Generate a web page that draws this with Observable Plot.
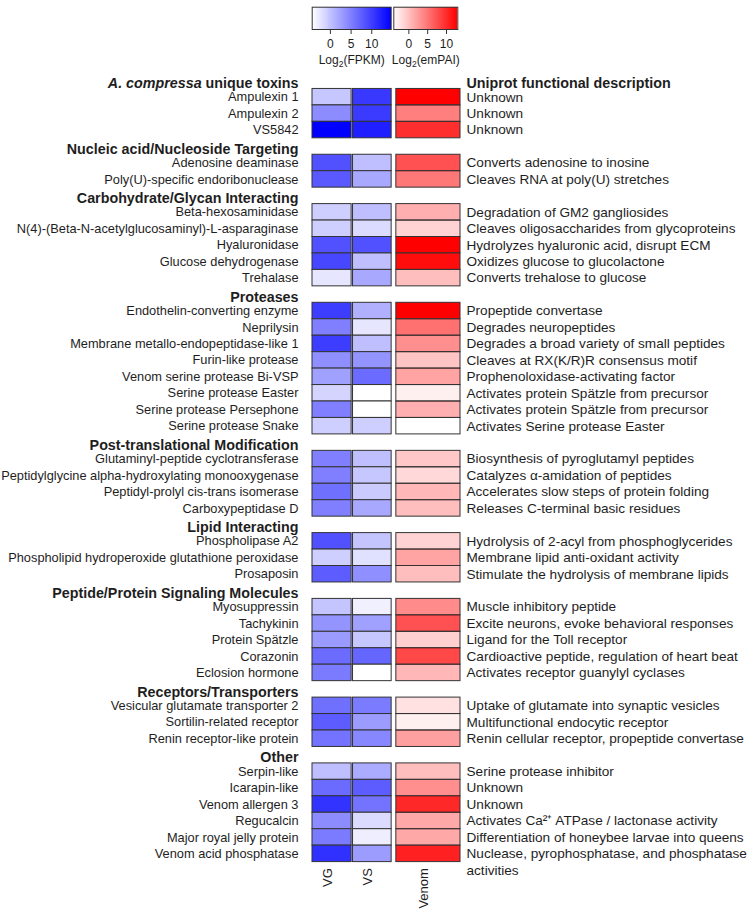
<!DOCTYPE html>
<html><head><meta charset="utf-8">
<script src="https://cdn.jsdelivr.net/npm/d3@7"></script>
<script src="https://cdn.jsdelivr.net/npm/@observablehq/plot@0.6"></script>
<style>
body{margin:0;background:#fff;font-family:"Liberation Sans",Arial,Helvetica,sans-serif;}
#wrap{position:relative;width:750px;height:911px;overflow:hidden;}
#legBlue{position:absolute;left:300px;top:0;}
#legRed{position:absolute;left:392px;top:0;}
#main{position:absolute;left:0;top:66px;}
svg{overflow:visible;}
</style></head><body>
<div id="wrap"><div id="legBlue"></div><div id="legRed"></div><div id="main"></div></div>
<script>
// ---------------- DATA ----------------
const groupNames = [
  "A. compressa unique toxins",
  "Nucleic acid/Nucleoside Targeting",
  "Carbohydrate/Glycan Interacting",
  "Proteases",
  "Post-translational Modification",
  "Lipid Interacting",
  "Peptide/Protein Signaling Molecules",
  "Receptors/Transporters",
  "Other"
];
const proteins = [
  "Ampulexin 1","Ampulexin 2","VS5842",
  "Adenosine deaminase","Poly(U)-specific endoribonuclease",
  "Beta-hexosaminidase","N(4)-(Beta-N-acetylglucosaminyl)-L-asparaginase","Hyaluronidase","Glucose dehydrogenase","Trehalase",
  "Endothelin-converting enzyme","Neprilysin","Membrane metallo-endopeptidase-like 1","Furin-like protease","Venom serine protease Bi-VSP","Serine protease Easter","Serine protease Persephone","Serine protease Snake",
  "Glutaminyl-peptide cyclotransferase","Peptidylglycine alpha-hydroxylating monooxygenase","Peptidyl-prolyl cis-trans isomerase","Carboxypeptidase D",
  "Phospholipase A2","Phospholipid hydroperoxide glutathione peroxidase","Prosaposin",
  "Myosuppressin","Tachykinin","Protein Spätzle","Corazonin","Eclosion hormone",
  "Vesicular glutamate transporter 2","Sortilin-related receptor","Renin receptor-like protein",
  "Serpin-like","Icarapin-like","Venom allergen 3","Regucalcin","Major royal jelly protein","Venom acid phosphatase"
];
const proteinGroup = [
  0,0,0, 1,1, 2,2,2,2,2, 3,3,3,3,3,3,3,3, 4,4,4,4, 5,5,5, 6,6,6,6,6, 7,7,7, 8,8,8,8,8,8
];
// Log2(FPKM), venom gland
const vgLog2FPKM = [
  -0.2, 4.2, 14.7,
  8.6, 8.0,
  -0.8, -0.8, 8.6, 9.4, -2.5,
  10.1, 5.2, 10.1, 4.0, 2.7, -1.2, 5.2, -0.8,
  5.2, 5.2, 6.3, 5.2,
  8.6, -0.8, 7.8,
  0.0, 3.6, 3.2, 6.7, 5.5,
  6.3, 7.8, 6.1,
  0.4, 6.7, 10.9, 4.2, 5.5, 11.1
];
// Log2(FPKM), venom sac
const vsLog2FPKM = [
  10.5, 10.3, 12.4,
  0.4, 2.1,
  0.4, -1.7, 8.6, 0.4, 2.1,
  1.5, -2.5, 0.4, 3.6, 6.7, -4.4, -4.4, -0.8,
  0.4, -0.2, -0.4, 2.1,
  0.0, -2.1, 4.0,
  -3.3, 2.7, -0.2, 7.1, -4.4,
  5.5, 3.0, 4.6,
  1.9, 7.8, 6.1, -1.7, -3.1, 3.0
];
// Log2(emPAI), venom proteome
const venomLog2emPAI = [
  13.0, 4.5, 9.9,
  7.6, 5.0,
  1.3, -1.1, 13.0, 12.2, 0.3,
  13.0, 5.5, 3.5, -0.1, 2.1, -3.0, 1.3, -4.0,
  -0.3, -1.5, 0.8, 0.3,
  -1.1, 2.1, 0.3,
  3.7, 7.6, -0.9, 8.2, 0.8,
  -2.0, -3.0, 2.3,
  0.3, 3.5, 10.3, 1.8, 1.8, 10.8
];
const descriptions = [
  "Unknown","Unknown","Unknown",
  "Converts adenosine to inosine","Cleaves RNA at poly(U) stretches",
  "Degradation of GM2 gangliosides","Cleaves oligosaccharides from glycoproteins","Hydrolyzes hyaluronic acid, disrupt ECM","Oxidizes glucose to glucolactone","Converts trehalose to glucose",
  "Propeptide convertase","Degrades neuropeptides","Degrades a broad variety of small peptides","Cleaves at RX(K/R)R consensus motif","Prophenoloxidase-activating factor","Activates protein Spätzle from precursor","Activates protein Spätzle from precursor","Activates Serine protease Easter",
  "Biosynthesis of pyroglutamyl peptides","Catalyzes α-amidation of peptides","Accelerates slow steps of protein folding","Releases C-terminal basic residues",
  "Hydrolysis of 2-acyl from phosphoglycerides","Membrane lipid anti-oxidant activity","Stimulate the hydrolysis of membrane lipids",
  "Muscle inhibitory peptide","Excite neurons, evoke behavioral responses","Ligand for the Toll receptor","Cardioactive peptide, regulation of heart beat","Activates receptor guanylyl cyclases",
  "Uptake of glutamate into synaptic vesicles","Multifunctional endocytic receptor","Renin cellular receptor, propeptide convertase",
  "Serine protease inhibitor","Unknown","Unknown","Activates Ca²⁺ ATPase / lactonase activity","Differentiation of honeybee larvae into queens","Nuclease, pyrophosphatase, and phosphatase\nactivities"
];
const columns = ["VG","VS","Venom"];
const descriptionHeader = "Uniprot functional description";
const fpkmTicks = [0,5,10];
const empaiTicks = [0,5,10];
const fpkmLabel = "Log2(FPKM)";
const empaiLabel = "Log2(emPAI)";

// ---------------- LAYOUT (styling only) ----------------
const FONT = '"Liberation Sans",Arial,Helvetica,sans-serif';
const INK = "#1e1e1e";
const fpkmDomain = [-4.4, 14.7];
const empaiDomain = [-4.0, 13.0];
const colSpan = {VG: [0, 1], VS: [1.036, 2.023], Venom: [2.143, 3.783]};
const mainHeight = 845, mTop = 6, mBottom = 49.4;
const step = (mainHeight - mTop - mBottom) / (proteins.length + groupNames.length);
const labelSize = 12.8, descSize = 13.6, headSize = 14.3;

// ---------------- BUILD ROWS ----------------
const rows = [];
groupNames.forEach((g, gi) => {
  rows.push({key: "g" + gi, type: "header", label: g});
  proteins.forEach((p, i) => {
    if (proteinGroup[i] === gi) rows.push({key: "p" + i, type: "item", label: p, desc: descriptions[i], i});
  });
});
const items = rows.filter(r => r.type === "item");
const headers = rows.filter(r => r.type === "header");
const blueCells = items.flatMap(r => [
  {key: r.key, col: "VG", value: vgLog2FPKM[r.i]},
  {key: r.key, col: "VS", value: vsLog2FPKM[r.i]}
]);
const redCells = items.map(r => ({key: r.key, col: "Venom", value: venomLog2emPAI[r.i]}));

const main = Plot.plot({
  width: 750, height: mainHeight,
  marginTop: mTop, marginBottom: mBottom, marginLeft: 312, marginRight: 290,
  style: {fontFamily: FONT, color: INK, background: "transparent"},
  x: {domain: [0, 3.783], axis: null},
  y: {domain: rows.map(r => r.key), padding: 0, round: false, axis: null},
  color: {type: "linear", domain: fpkmDomain, range: ["#ffffff", "#0000ff"], interpolate: "rgb", clamp: true},
  opacity: {type: "linear", domain: empaiDomain, range: [0, 1], clamp: true},
  marks: [
    Plot.barX(blueCells, {x1: d => colSpan[d.col][0], x2: d => colSpan[d.col][1], y: "key", fill: "value", stroke: "#333", strokeWidth: 1}),
    Plot.barX(redCells, {x1: d => colSpan[d.col][0], x2: d => colSpan[d.col][1], y: "key", fill: "#ff0000", fillOpacity: "value", stroke: "#333", strokeWidth: 1}),
    Plot.text(items, {y: "key", text: "label", frameAnchor: "left", textAnchor: "end", dx: -14, fontSize: labelSize, fill: INK}),
    Plot.text(headers, {y: "key", text: "label", frameAnchor: "left", textAnchor: "end", dx: -14, dy: step / 2 - 1, lineAnchor: "bottom", fontSize: headSize, fontWeight: "bold", fill: INK}),
    Plot.text([{key: rows[0].key, label: descriptionHeader}], {y: "key", text: "label", frameAnchor: "right", textAnchor: "start", dx: 6, dy: step / 2 - 1, lineAnchor: "bottom", fontSize: headSize, fontWeight: "bold", fill: INK}),
    Plot.text(items, {y: "key", text: "desc", frameAnchor: "right", textAnchor: "start", dx: 6, lineAnchor: "top", lineHeight: 1.2, dy: descSize * 0.32 - descSize * 0.71 * 1.2, fontSize: descSize, fill: INK}),
    Plot.text(columns, {x: d => (colSpan[d][0] + colSpan[d][1]) / 2, text: d => d, frameAnchor: "bottom", rotate: -90, textAnchor: "end", dy: 6, fontSize: 13, fill: INK})
  ]
});
document.getElementById("main").appendChild(main);
main.querySelectorAll("text").forEach(t => {
  if (t.textContent === groupNames[0]) {
    t.textContent = "";
    const a = document.createElementNS("http://www.w3.org/2000/svg", "tspan");
    a.setAttribute("font-style", "italic"); a.textContent = "A. compressa";
    const b = document.createElementNS("http://www.w3.org/2000/svg", "tspan");
    b.textContent = " unique toxins";
    t.appendChild(a); t.appendChild(b);
  }
});

// ---------------- LEGENDS ----------------
function ramp(domain, n) {
  const [lo, hi] = domain, w = (hi - lo) / n;
  return d3.range(n).map(i => ({x1: lo + i * w, x2: lo + (i + 1) * w + w * 0.3, v: lo + (i + 0.5) * w}));
}
function subscriptify(svg) {
  svg.querySelectorAll("text").forEach(t => {
    const s = t.textContent;
    if (s.startsWith("Log2(")) {
      t.textContent = "";
      const ns = "http://www.w3.org/2000/svg";
      const a = document.createElementNS(ns, "tspan"); a.textContent = "Log";
      const b = document.createElementNS(ns, "tspan"); b.textContent = "2"; b.setAttribute("font-size", "8.5"); b.setAttribute("dy", "3");
      const c = document.createElementNS(ns, "tspan"); c.textContent = s.slice(4); c.setAttribute("dy", "-3");
      t.appendChild(a); t.appendChild(b); t.appendChild(c);
    }
  });
}
const legBlue = Plot.plot({
  width: 92, height: 66, marginLeft: 11.7, marginRight: 1.3, marginTop: 6.7, marginBottom: 37,
  style: {fontFamily: FONT, color: INK, background: "transparent", overflow: "visible"},
  x: {domain: fpkmDomain, axis: null},
  color: {type: "linear", domain: fpkmDomain, range: ["#ffffff", "#0000ff"], interpolate: "rgb"},
  marks: [
    Plot.barX(ramp(fpkmDomain, 80), {x1: "x1", x2: "x2", fill: "v", shapeRendering: "crispEdges"}),
    Plot.frame({stroke: "#333", strokeWidth: 1}),
    Plot.axisX(fpkmTicks, {tickSize: 5, tickPadding: 5, fontSize: 12, label: null, stroke: "#333", fill: INK}),
    Plot.text([fpkmLabel], {frameAnchor: "bottom", lineAnchor: "bottom", dy: 34, fontSize: 12, fill: INK})
  ]
});
const legRed = Plot.plot({
  width: 70, height: 66, marginLeft: 1.3, marginRight: 4.7, marginTop: 6.7, marginBottom: 37,
  style: {fontFamily: FONT, color: INK, background: "transparent", overflow: "visible"},
  x: {domain: empaiDomain, axis: null},
  opacity: {type: "linear", domain: empaiDomain, range: [0, 1]},
  marks: [
    Plot.barX(ramp(empaiDomain, 64), {x1: "x1", x2: d => d.x2 - (d.x2 - d.x1) * 0.23, fill: "#ff0000", fillOpacity: "v", shapeRendering: "crispEdges"}),
    Plot.frame({stroke: "#333", strokeWidth: 1}),
    Plot.axisX(empaiTicks, {tickSize: 5, tickPadding: 5, fontSize: 12, label: null, stroke: "#333", fill: INK}),
    Plot.text([empaiLabel], {frameAnchor: "bottom", lineAnchor: "bottom", dy: 34, fontSize: 12, fill: INK})
  ]
});
subscriptify(legBlue); subscriptify(legRed);
document.getElementById("legBlue").appendChild(legBlue);
document.getElementById("legRed").appendChild(legRed);
</script>
</body></html>
